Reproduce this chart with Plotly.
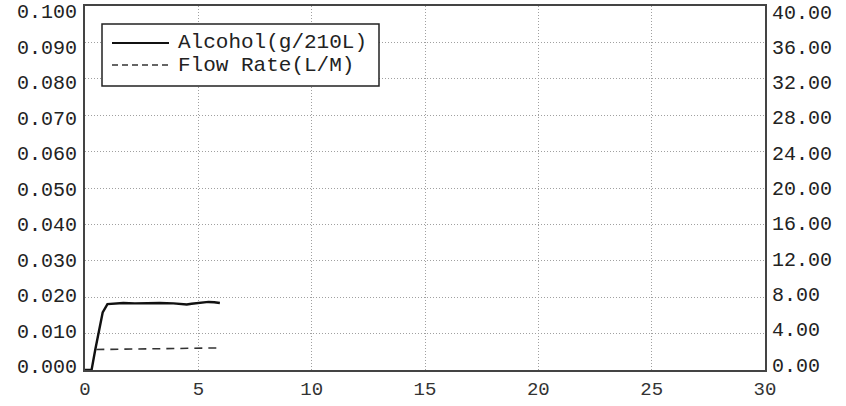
import plotly.graph_objects as go

# Data
alc_t = [0.0, 0.29, 0.45, 0.59, 0.78, 0.99, 1.3, 1.69, 2.2, 2.72, 3.3, 3.9, 4.2, 4.49, 4.7, 4.93, 5.2, 5.45, 5.7, 5.95]
alc_v = [0.0, 0.0, 0.0055, 0.0103, 0.0158, 0.0181, 0.0183, 0.0184, 0.0183, 0.0184, 0.0184, 0.0183, 0.0182, 0.0180, 0.0182, 0.0184, 0.0185, 0.0187, 0.0186, 0.0184]
flow_t = [0.5, 1.0, 2.0, 3.0, 4.0, 5.0, 6.0]
flow_v = [2.25, 2.27, 2.30, 2.33, 2.37, 2.40, 2.43]

left_ticks = [round(i * 0.01, 3) for i in range(11)]
right_ticks = [i * 4 for i in range(11)]
x_ticks = [0, 5, 10, 15, 20, 25, 30]
legend_labels = ["Alcohol(g/210L)", "Flow Rate(L/M)"]

FONT = "Liberation Mono"

fig = go.Figure()
fig.add_trace(go.Scatter(x=alc_t, y=alc_v, mode="lines", name=legend_labels[0],
                         line=dict(color="#111111", width=2.4), yaxis="y"))
fig.add_trace(go.Scatter(x=flow_t, y=flow_v, mode="lines", name=legend_labels[1],
                         line=dict(color="#333333", width=1.6, dash="8px,6px"), yaxis="y2"))
# empty carriers so the tick-label axes get drawn
fig.add_trace(go.Scatter(x=[], y=[], yaxis="y3", hoverinfo="skip", showlegend=False))
fig.add_trace(go.Scatter(x=[], y=[], yaxis="y4", hoverinfo="skip", showlegend=False))

grid = dict(showgrid=True, gridcolor="#a0a0a0", griddash="1px,2px", gridwidth=1)

# tick-label axes: labels in the reference sit slightly inside the grid extent
def label_range(lo_val, hi_val, lo_px, hi_px, bottom=370, height=364):
    span = (hi_val - lo_val) * height / (lo_px - hi_px)
    a = lo_val - (bottom - lo_px) * span / height
    return [a, a + span]

fig.update_layout(
    width=846, height=406,
    margin=dict(l=85, r=81, t=6, b=36, autoexpand=False),
    paper_bgcolor="white", plot_bgcolor="white",
    showlegend=False,
    font=dict(family=FONT, size=20, color="#222222"),
    xaxis=dict(range=[0, 30], tickvals=x_ticks, ticktext=[str(v) for v in x_ticks],
               showline=True, linecolor="#444444", linewidth=2, mirror=True,
               zeroline=False, ticks="", tickfont=dict(color="#333333", size=19),
               ticklabeloverflow="allow", automargin=False, **grid),
    yaxis=dict(range=[0, 0.1], tickvals=left_ticks, showticklabels=False,
               showline=True, linecolor="#444444", linewidth=2, mirror=True,
               zeroline=False, ticks="", automargin=False, **grid),
    yaxis2=dict(range=[0, 40], tickvals=right_ticks, showticklabels=False,
                overlaying="y", side="right", showgrid=False, zeroline=False,
                showline=False, ticks="", automargin=False),
    yaxis3=dict(range=label_range(0, 0.1, 366, 11), tickvals=left_ticks,
                ticktext=[f"{v:.3f}" for v in left_ticks],
                overlaying="y", side="left", showgrid=False, zeroline=False,
                showline=False, ticks="", ticklabelstandoff=7,
                ticklabeloverflow="allow", automargin=False),
    yaxis4=dict(range=label_range(0, 40, 364.5, 11.5), tickvals=right_ticks,
                ticktext=[f"{v:.2f}" for v in right_ticks],
                overlaying="y", side="right", showgrid=False, zeroline=False,
                showline=False, ticks="", ticklabelstandoff=6,
                ticklabeloverflow="allow", automargin=False),
)

# Custom legend box matching the reference
x0, x1 = (102 - 85) / 680, (379 - 85) / 680
y1, y0 = 1 - (24 - 6) / 364, 1 - (86 - 6) / 364
fig.add_shape(type="rect", xref="paper", yref="paper", x0=x0, x1=x1, y0=y0, y1=y1,
              line=dict(color="#222222", width=1.5), fillcolor="white", layer="above")
rows = [1 - (43 - 6) / 364, 1 - (65 - 6) / 364]
lx0, lx1 = (112 - 85) / 680, (169 - 85) / 680
fig.add_shape(type="line", xref="paper", yref="paper", x0=lx0, x1=lx1, y0=rows[0], y1=rows[0],
              line=dict(color="#111111", width=2.2), layer="above")
fig.add_shape(type="line", xref="paper", yref="paper", x0=lx0, x1=lx1, y0=rows[1], y1=rows[1],
              line=dict(color="#333333", width=1.4, dash="6px,4px"), layer="above")
for lab, ry in zip(legend_labels, rows):
    fig.add_annotation(xref="paper", yref="paper", x=(176 - 85) / 680, y=ry, text=lab,
                       showarrow=False, xanchor="left", yanchor="middle",
                       font=dict(family=FONT, size=21, color="#222222"))

fig.write_html("out.html", config={"displayModeBar": False},
               post_script="document.body.style.margin='0';document.body.style.overflow='hidden';")
